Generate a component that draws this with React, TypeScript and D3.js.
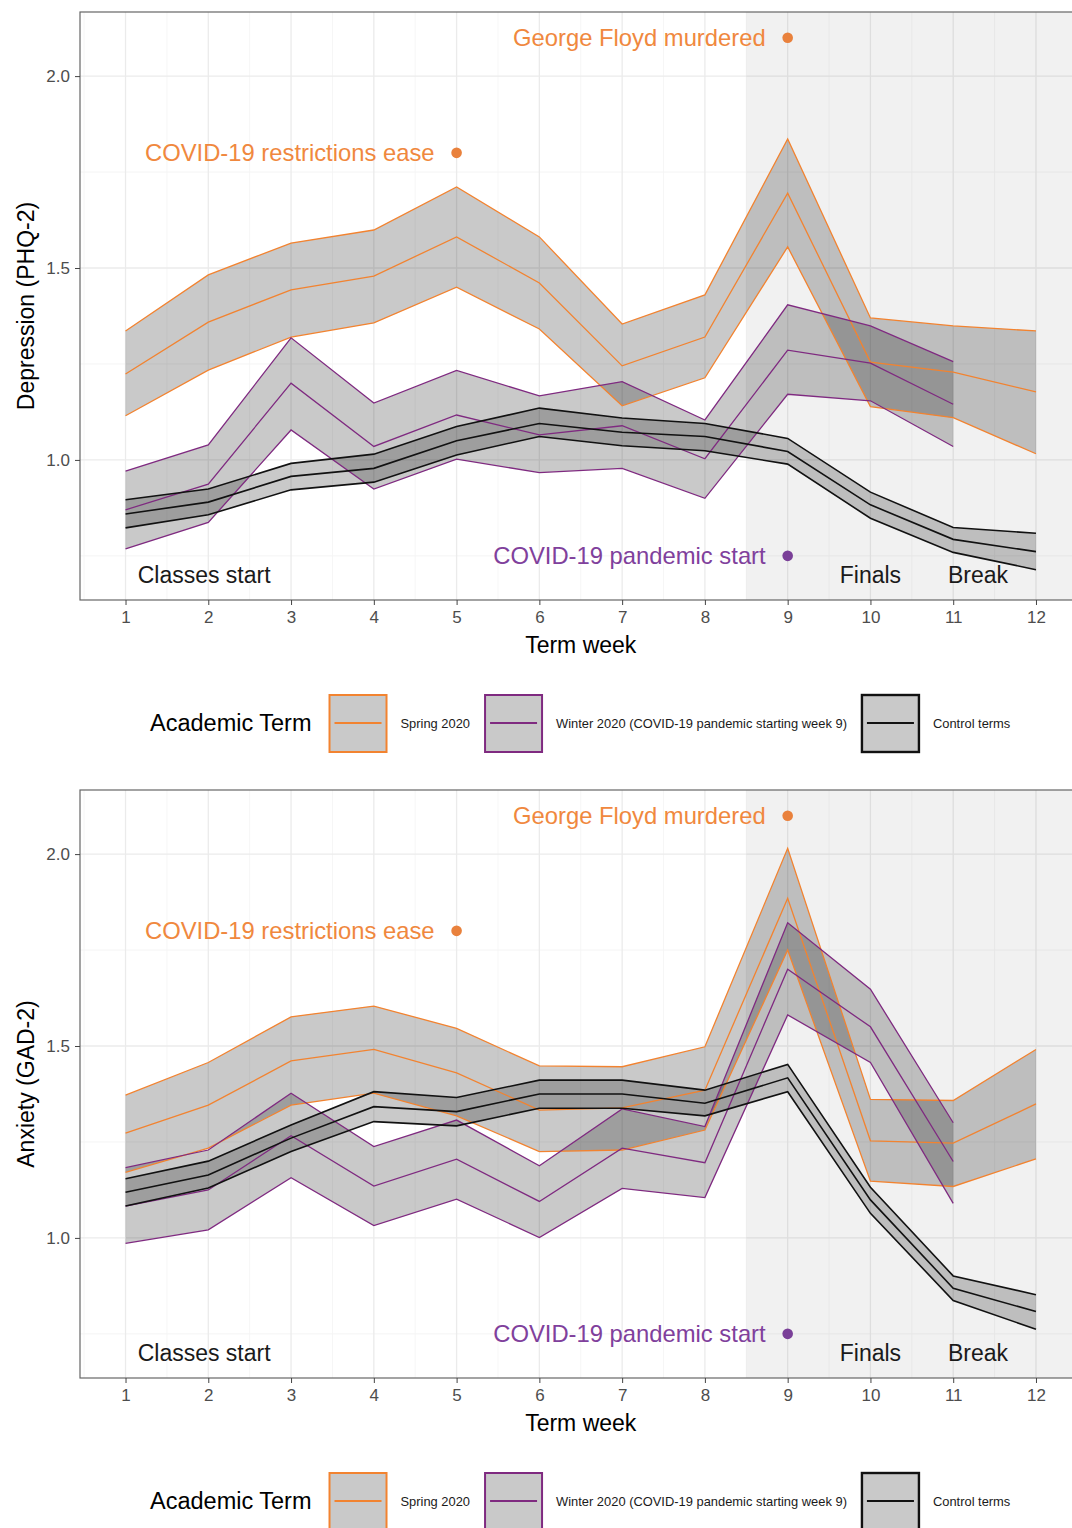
import { useEffect, useRef } from "react";
import * as d3 from "d3";

const WEEKS = [1, 2, 3, 4, 5, 6, 7, 8, 9, 10, 11, 12];
const WINTER_WEEKS = [1, 2, 3, 4, 5, 6, 7, 8, 9, 10, 11];

// Depression (PHQ-2): mean with lower/upper bounds per week
const DEP_SPRING_HI = [1.336, 1.482, 1.565, 1.599, 1.711, 1.581, 1.354, 1.43, 1.836, 1.37, 1.349, 1.336];
const DEP_SPRING_MEAN = [1.224, 1.359, 1.443, 1.479, 1.581, 1.461, 1.245, 1.32, 1.695, 1.255, 1.229, 1.177];
const DEP_SPRING_LO = [1.115, 1.234, 1.32, 1.357, 1.45, 1.341, 1.141, 1.214, 1.555, 1.139, 1.11, 1.016];
const DEP_WINTER_HI = [0.971, 1.039, 1.318, 1.148, 1.233, 1.167, 1.204, 1.104, 1.404, 1.349, 1.256];
const DEP_WINTER_MEAN = [0.87, 0.937, 1.2, 1.035, 1.117, 1.065, 1.089, 1.003, 1.286, 1.252, 1.145];
const DEP_WINTER_LO = [0.768, 0.837, 1.078, 0.924, 1.002, 0.967, 0.978, 0.9, 1.171, 1.154, 1.035];
const DEP_CONTROL_HI = [0.896, 0.924, 0.991, 1.015, 1.087, 1.135, 1.109, 1.095, 1.056, 0.916, 0.824, 0.809];
const DEP_CONTROL_MEAN = [0.859, 0.89, 0.957, 0.978, 1.05, 1.095, 1.072, 1.061, 1.022, 0.883, 0.793, 0.761];
const DEP_CONTROL_LO = [0.823, 0.857, 0.922, 0.942, 1.013, 1.061, 1.037, 1.024, 0.989, 0.848, 0.759, 0.714];

// Anxiety (GAD-2)
const ANX_SPRING_HI = [1.372, 1.457, 1.576, 1.604, 1.546, 1.448, 1.446, 1.498, 2.015, 1.361, 1.358, 1.491];
const ANX_SPRING_MEAN = [1.273, 1.346, 1.461, 1.491, 1.43, 1.333, 1.339, 1.385, 1.885, 1.253, 1.247, 1.349];
const ANX_SPRING_LO = [1.171, 1.234, 1.346, 1.377, 1.318, 1.225, 1.229, 1.281, 1.75, 1.148, 1.134, 1.206];
const ANX_WINTER_HI = [1.183, 1.229, 1.377, 1.238, 1.307, 1.188, 1.336, 1.29, 1.821, 1.648, 1.3];
const ANX_WINTER_MEAN = [1.083, 1.125, 1.266, 1.135, 1.205, 1.095, 1.234, 1.196, 1.7, 1.55, 1.199];
const ANX_WINTER_LO = [0.986, 1.021, 1.157, 1.032, 1.101, 1.001, 1.129, 1.105, 1.581, 1.457, 1.09];
const ANX_CONTROL_HI = [1.154, 1.2, 1.294, 1.381, 1.366, 1.411, 1.411, 1.385, 1.452, 1.132, 0.901, 0.852];
const ANX_CONTROL_MEAN = [1.119, 1.164, 1.26, 1.342, 1.329, 1.375, 1.375, 1.351, 1.417, 1.099, 0.869, 0.808];
const ANX_CONTROL_LO = [1.083, 1.13, 1.225, 1.303, 1.292, 1.338, 1.338, 1.318, 1.381, 1.064, 0.837, 0.762];

const GROUP_NAMES = ["Spring 2020", "Winter 2020 (COVID-19 pandemic starting week 9)", "Control terms"];
const GROUP_COLORS = ["#f28330", "#7f2a80", "#111111"];

// event markers
const EVENT_LABELS = ["George Floyd murdered", "COVID-19 restrictions ease", "COVID-19 pandemic start"];
const EVENT_WEEKS = [9, 5, 9];
const EVENT_VALUES = [2.1, 1.8, 0.75];
const EVENT_GROUP = [0, 0, 1];
const EVENT_TEXT_COLORS = ["#f0883e", "#80409c"];
const EVENT_DOT_COLORS = ["#e9813c", "#7a3f98"];

// term periods
const PERIOD_LABELS = ["Classes start", "Finals", "Break"];
const PERIOD_WEEKS = [1.95, 10, 11.3];
const PERIOD_VALUE = 0.7;

const Y_MAJOR = [1.0, 1.5, 2.0];
const Y_MINOR = [0.75, 1.25, 1.75];
const FINALS_FROM = 8.5;

const FONT = "'Liberation Sans', Arial, Helvetica, sans-serif";

type Band = { weeks: number[]; lo: number[]; mid: number[]; hi: number[] };

const DEP_BANDS: Band[] = [
  { weeks: WEEKS, lo: DEP_SPRING_LO, mid: DEP_SPRING_MEAN, hi: DEP_SPRING_HI },
  { weeks: WINTER_WEEKS, lo: DEP_WINTER_LO, mid: DEP_WINTER_MEAN, hi: DEP_WINTER_HI },
  { weeks: WEEKS, lo: DEP_CONTROL_LO, mid: DEP_CONTROL_MEAN, hi: DEP_CONTROL_HI },
];
const ANX_BANDS: Band[] = [
  { weeks: WEEKS, lo: ANX_SPRING_LO, mid: ANX_SPRING_MEAN, hi: ANX_SPRING_HI },
  { weeks: WINTER_WEEKS, lo: ANX_WINTER_LO, mid: ANX_WINTER_MEAN, hi: ANX_WINTER_HI },
  { weeks: WEEKS, lo: ANX_CONTROL_LO, mid: ANX_CONTROL_MEAN, hi: ANX_CONTROL_HI },
];

function drawPanel(
  root: d3.Selection<SVGSVGElement, unknown, null, undefined>,
  top: number,
  yTitle: string,
  bands: Band[]
) {
  const height = 588;
  const x = d3.scaleLinear().domain([0.45, 12.55]).range([80, 1081.5]);
  const y = d3.scaleLinear().domain([0.635, 2.167]).range([top + height, top]);
  const [x0, x1] = x.range();
  const yb = top + height;

  const g = root.append("g");

  // panel bg + grid
  g.append("rect").attr("x", x0).attr("y", top).attr("width", x1 - x0).attr("height", height).attr("fill", "#fff");

  g.selectAll(".minor-x")
    .data(d3.range(0.5, 13, 1))
    .join("line")
    .attr("x1", (d) => x(d)).attr("x2", (d) => x(d))
    .attr("y1", top).attr("y2", yb)
    .attr("stroke", "#f4f4f4").attr("stroke-width", 0.8);
  g.selectAll(".minor-y")
    .data(Y_MINOR)
    .join("line")
    .attr("x1", x0).attr("x2", x1)
    .attr("y1", (d) => y(d)).attr("y2", (d) => y(d))
    .attr("stroke", "#f4f4f4").attr("stroke-width", 1);
  g.selectAll(".major-x")
    .data(WEEKS)
    .join("line")
    .attr("x1", (d) => x(d)).attr("x2", (d) => x(d))
    .attr("y1", top).attr("y2", yb)
    .attr("stroke", "#ebebeb").attr("stroke-width", 1.3);
  g.selectAll(".major-y")
    .data(Y_MAJOR)
    .join("line")
    .attr("x1", x0).attr("x2", x1)
    .attr("y1", (d) => y(d)).attr("y2", (d) => y(d))
    .attr("stroke", "#ebebeb").attr("stroke-width", 1.3);

  // finals/break shading
  g.append("rect")
    .attr("x", x(FINALS_FROM)).attr("y", top)
    .attr("width", x1 - x(FINALS_FROM)).attr("height", height)
    .attr("fill", "#000").attr("opacity", 0.055);

  // ribbons
  bands.forEach((b) => {
    const area = d3
      .area<number>()
      .x((w) => x(w))
      .y0((_, i) => y(b.lo[i]))
      .y1((_, i) => y(b.hi[i]));
    g.append("path").attr("d", area(b.weeks)).attr("fill", "#000").attr("opacity", 0.21);
  });

  // lines
  bands.forEach((b, gi) => {
    [b.lo, b.mid, b.hi].forEach((vals) => {
      const line = d3
        .line<number>()
        .x((w) => x(w))
        .y((_, i) => y(vals[i]));
      g.append("path")
        .attr("d", line(b.weeks))
        .attr("fill", "none")
        .attr("stroke", GROUP_COLORS[gi])
        .attr("stroke-width", gi === 2 ? 1.6 : 1.3)
        .attr("stroke-linejoin", "miter");
    });
  });

  // events
  EVENT_LABELS.forEach((label, i) => {
    const c = EVENT_GROUP[i];
    g.append("text")
      .attr("x", x(EVENT_WEEKS[i]) - 22)
      .attr("y", y(EVENT_VALUES[i]))
      .attr("text-anchor", "end")
      .attr("dominant-baseline", "central")
      .style("font-family", FONT)
      .style("font-size", "23.8px")
      .attr("fill", EVENT_TEXT_COLORS[c])
      .text(label);
    g.append("circle")
      .attr("cx", x(EVENT_WEEKS[i]))
      .attr("cy", y(EVENT_VALUES[i]))
      .attr("r", 5.3)
      .attr("fill", EVENT_DOT_COLORS[c]);
  });

  PERIOD_LABELS.forEach((label, i) => {
    g.append("text")
      .attr("x", x(PERIOD_WEEKS[i]))
      .attr("y", y(PERIOD_VALUE))
      .attr("text-anchor", "middle")
      .attr("dominant-baseline", "central")
      .style("font-family", FONT)
      .style("font-size", "23px")
      .attr("fill", "#1a1a1a")
      .text(label);
  });

  // border
  g.append("rect")
    .attr("x", x0).attr("y", top).attr("width", x1 - x0).attr("height", height)
    .attr("fill", "none").attr("stroke", "#666").attr("stroke-width", 1.2);

  // axes
  g.append("g")
    .attr("transform", `translate(0,${yb})`)
    .call(d3.axisBottom(x).tickValues(WEEKS).tickSize(5).tickPadding(6).tickFormat(d3.format("d")))
    .call((s) => s.select(".domain").remove())
    .call((s) => s.selectAll("line").attr("stroke", "#444"))
    .selectAll("text")
    .style("font-family", FONT)
    .style("font-size", "17px")
    .attr("fill", "#4d4d4d");

  g.append("g")
    .attr("transform", `translate(${x0},0)`)
    .call(d3.axisLeft(y).tickValues(Y_MAJOR).tickSize(5).tickPadding(5).tickFormat(d3.format(".1f")))
    .call((s) => s.select(".domain").remove())
    .call((s) => s.selectAll("line").attr("stroke", "#444"))
    .selectAll("text")
    .style("font-family", FONT)
    .style("font-size", "17px")
    .attr("fill", "#4d4d4d");

  g.append("text")
    .attr("x", (x0 + x1) / 2)
    .attr("y", yb + 53)
    .attr("text-anchor", "middle")
    .style("font-family", FONT)
    .style("font-size", "23px")
    .attr("fill", "#000")
    .text("Term week");

  g.append("text")
    .attr("transform", `translate(34,${top + height / 2}) rotate(-90)`)
    .attr("text-anchor", "middle")
    .style("font-family", FONT)
    .style("font-size", "23px")
    .attr("fill", "#000")
    .text(yTitle);

  // legend
  const lg = g.append("g").attr("transform", `translate(0,${top + 711})`);
  const title = lg
    .append("text")
    .attr("x", 150)
    .attr("y", 0)
    .attr("dominant-baseline", "central")
    .style("font-family", FONT)
    .style("font-size", "23.5px")
    .attr("fill", "#000")
    .text("Academic Term");
  let cx = 150 + (title.node() as SVGTextElement).getComputedTextLength() + 17;
  GROUP_NAMES.forEach((name, i) => {
    lg.append("rect")
      .attr("x", cx + 1).attr("y", -28)
      .attr("width", 57).attr("height", 57)
      .attr("fill", "#c9c9c9")
      .attr("stroke", GROUP_COLORS[i])
      .attr("stroke-width", i === 2 ? 2.4 : 2);
    lg.append("line")
      .attr("x1", cx + 6).attr("x2", cx + 53)
      .attr("y1", 0).attr("y2", 0)
      .attr("stroke", GROUP_COLORS[i])
      .attr("stroke-width", i === 2 ? 2.2 : 1.8);
    const t = lg
      .append("text")
      .attr("x", cx + 72)
      .attr("y", 0)
      .attr("dominant-baseline", "central")
      .style("font-family", FONT)
      .style("font-size", "12.9px")
      .attr("fill", "#1a1a1a")
      .text(name);
    cx = cx + 72 + (t.node() as SVGTextElement).getComputedTextLength() + 14;
  });
}

export default function App() {
  const ref = useRef<SVGSVGElement>(null);

  useEffect(() => {
    if (!ref.current) return;
    document.body.style.margin = "0";
    const svg = d3.select(ref.current);
    svg.selectAll("*").remove();
    drawPanel(svg, 12, "Depression (PHQ-2)", DEP_BANDS);
    drawPanel(svg, 790, "Anxiety (GAD-2)", ANX_BANDS);
  }, []);

  return <svg ref={ref} width={1072} height={1528} style={{ display: "block", background: "#fff" }} />;
}
